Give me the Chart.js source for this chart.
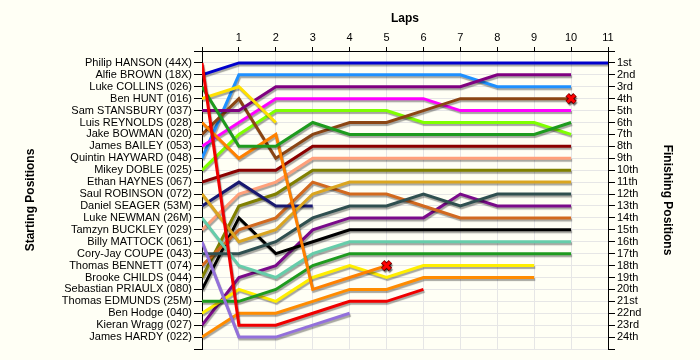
<!DOCTYPE html>
<html><head><meta charset="utf-8">
<script src="https://cdn.jsdelivr.net/npm/chart.js@4/dist/chart.umd.min.js"></script>
<style>html,body{margin:0;padding:0;background:#FFFFF5;}canvas{display:block;}</style>
</head><body>
<canvas id="c" width="700" height="360"></canvas>
<script>
// Lap numbers (0 = start grid)
const laps = [0,1,2,3,4,5,6,7,8,9,10,11];

// Drivers in starting order
const drivers = ['Philip HANSON (44X)','Alfie BROWN (18X)','Luke COLLINS (026)','Ben HUNT (016)',
  'Sam STANSBURY (037)','Luis REYNOLDS (028)','Jake BOWMAN (020)','James BAILEY (053)',
  'Quintin HAYWARD (048)','Mikey DOBLE (025)','Ethan HAYNES (067)','Saul ROBINSON (072)',
  'Daniel SEAGER (53M)','Luke NEWMAN (26M)','Tamzyn BUCKLEY (029)','Billy MATTOCK (061)',
  'Cory-Jay COUPE (043)','Thomas BENNETT (074)','Brooke CHILDS (044)','Sebastian PRIAULX (080)',
  'Thomas EDMUNDS (25M)','Ben Hodge (040)','Kieran Wragg (027)','James HARDY (022)'];

const finishLabels = ['1st','2nd','3rd','4th','5th','6th','7th','8th','9th','10th','11th','12th',
  '13th','14th','15th','16th','17th','18th','19th','20th','21st','22nd','23rd','24th'];

// Position of each driver at each lap (index = lap)
const hanson   = [1,23,23,22,21,21,20];
const brown    = [2,1,1,1,1,1,1,1,1,1,1,1];
const collins  = [3,8,8,6,7,7,7,7,7,7,6];
const hunt     = [4,3,6];
const stansbury= [5,5,3,3,3,3,3,3,2,2,2];
const reynolds = [6,9,7,20,19,18];
const bowman   = [7,4,9,7,6,6,5,4,4,4,4];
const bailey   = [8,6,4,4,4,4,4,5,5,5,5];
const hayward  = [9,2,2,2,2,2,2,2,3,3,3];
const doble    = [10,7,5,5,5,5,6,6,6,6,7];
const haynes   = [11,10,10,8,8,8,8,8,8,8,8];
const robinson = [12,16,15,12,11,11,11,11,11,11,11];
const seager   = [13,11,13,13];
const newman   = [14,18,19,17,16,16,16,16,16,16,16];
const buckley  = [15,12,11,9,9,9,9,9,9,9,9];
const mattock  = [16,24,24,23,22];
const coupe    = [17,17,16,14,13,13,12,13,12,12,12];
const bennett  = [18,15,14,11,12,12,13,14,14,14,14];
const childs   = [19,13,12,10,10,10,10,10,10,10,10];
const priaulx  = [20,14,17,16,15,15,15,15,15,15,15];
const edmunds  = [21,21,20,18,17,17,17,17,17,17,17];
const hodge    = [22,20,21,19,18,19,18,18,18,18];
const wragg    = [23,19,18,15,14,14,14,12,13,13,13];
const hardy    = [24,22,22,21,20,20,19,19,19,19];

const positions = [hanson,brown,collins,hunt,stansbury,reynolds,bowman,bailey,hayward,doble,
  haynes,robinson,seager,newman,buckley,mattock,coupe,bennett,childs,priaulx,edmunds,hodge,wragg,hardy];

const colors = ['#F00000','#0000CC','#1E9B1E','#FFE000','#800080','#FF8000','#8B4513','#FF00FF',
  '#1E90FF','#7FFF00','#8B0000','#DAA520','#191970','#66CDAA','#FFA07A','#9370DB',
  '#2F4F4F','#D2691E','#808000','#000000','#1E9B1E','#FFEE00','#7A0A8A','#FF8C00'];

// Drivers whose last lap is marked with a cross
const crossed = [6, 5];

const F = 'Liberation Sans, Arial, sans-serif';

const lineSets = positions.map((arr, i) => ({
  label: drivers[i],
  data: arr.map((p, lap) => ({x: laps[lap], y: p})),
  borderColor: colors[i],
  backgroundColor: colors[i],
  borderWidth: 3,
  pointRadius: 0,
  tension: 0,
  fill: false,
  order: 2,
  yAxisID: 'y'
}));

const crossPts = crossed.map(i => {
  const arr = positions[i];
  return {x: laps[arr.length - 1], y: arr[arr.length - 1]};
});

const markerSets = [
  {data: crossPts, showLine: false, pointStyle: 'crossRot', pointRadius: 5, pointBorderWidth: 3,
   pointBorderColor: '#FF0000', pointBackgroundColor: '#FF0000', order: 0, yAxisID: 'y'},
  {data: crossPts, showLine: false, pointStyle: 'crossRot', pointRadius: 5.5, pointBorderWidth: 5,
   pointBorderColor: '#7A0000', pointBackgroundColor: '#7A0000', order: 1, yAxisID: 'y'}
];

const bgPlugin = {
  id: 'bg',
  beforeDraw(chart) {
    const c = chart.ctx;
    c.save(); c.fillStyle = '#FFFFF5'; c.fillRect(0, 0, chart.width, chart.height); c.restore();
  }
};
const shadowPlugin = {
  id: 'shadow',
  beforeDatasetsDraw(chart) {
    const c = chart.ctx;
    c.save();
    c.shadowColor = 'rgba(0,0,0,0.35)';
    c.shadowOffsetX = 1;
    c.shadowOffsetY = 2;
    c.shadowBlur = 1;
  },
  afterDatasetsDraw(chart) { chart.ctx.restore(); }
};

const yCommon = {
  type: 'linear', reverse: true, min: 0, max: 25,
  ticks: {stepSize: 1, autoSkip: false, color: '#000', font: {family: F, size: 11}, padding: 2},
  border: {color: '#000', width: 1}
};

new Chart(document.getElementById('c'), {
  type: 'line',
  data: {datasets: [...markerSets, ...lineSets]},
  plugins: [bgPlugin, shadowPlugin],
  options: {
    responsive: false,
    animation: false,
    layout: {padding: {left: 0, right: 0, top: 0, bottom: 11}},
    plugins: {legend: {display: false}, tooltip: {enabled: false}},
    scales: {
      x: {
        type: 'linear', position: 'top', min: 0, max: 11,
        ticks: {stepSize: 1, autoSkip: false, color: '#000', font: {family: F, size: 11}, padding: 2,
          callback: v => (v === 0 ? '' : String(v))},
        grid: {color: '#E6E6E6', tickColor: '#000', tickLength: 4},
        border: {color: '#000', width: 1},
        title: {display: true, text: 'Laps', color: '#000', font: {family: F, size: 12, weight: 'bold'}, padding: {top: 11, bottom: 0}},
        afterFit: s => { s.height = 51; }
      },
      y: Object.assign({}, yCommon, {
        position: 'left',
        ticks: Object.assign({}, yCommon.ticks, {callback: v => drivers[v - 1] || ''}),
        grid: {color: '#E6E6E6', tickColor: '#000', tickLength: 8},
        title: {display: true, text: 'Starting Positions', color: '#000', font: {family: F, size: 12, weight: 'bold'}, padding: {top: 23, bottom: 0}},
        afterFit: s => { s.width = 202; }
      }),
      y2: Object.assign({}, yCommon, {
        position: 'right',
        ticks: Object.assign({}, yCommon.ticks, {callback: v => finishLabels[v - 1] || ''}),
        grid: {drawOnChartArea: false, color: '#000', tickColor: '#000', tickLength: 7},
        title: {display: true, text: 'Finishing Positions', color: '#000', font: {family: F, size: 12, weight: 'bold'}, padding: {top: 25, bottom: 0}},
        afterFit: s => { s.width = 92; }
      })
    }
  }
});
</script>
</body></html>
